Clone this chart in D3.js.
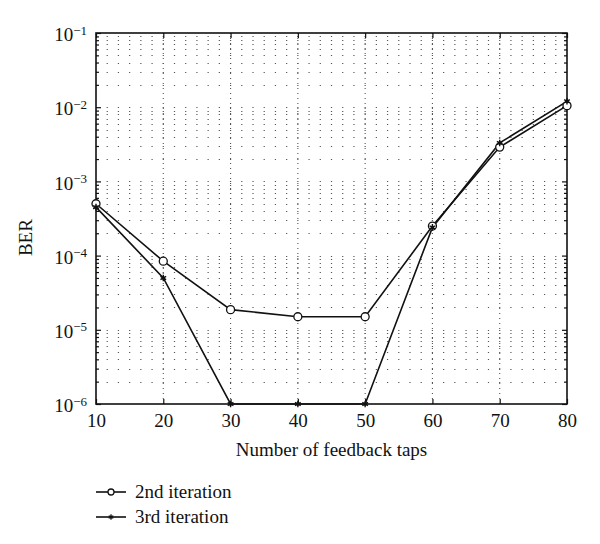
<!DOCTYPE html>
<html>
<head>
<meta charset="utf-8">
<script src="https://cdn.jsdelivr.net/npm/d3@7.9.0/dist/d3.min.js"></script>
<style>
  body { margin: 0; background: #fff; }
  text { font-family: "Liberation Serif", "DejaVu Serif", serif; fill: #111; }
</style>
</head>
<body>
<svg id="chart" width="600" height="544"></svg>
<script>
const taps = [10, 20, 30, 40, 50, 60, 70, 80];
const ber2nd = [5.0e-4, 8.4e-5, 1.87e-5, 1.5e-5, 1.5e-5, 2.5e-4, 2.9e-3, 1.05e-2];
const ber3rd = [4.5e-4, 5.0e-5, 1e-6, 1e-6, 1e-6, 2.4e-4, 3.3e-3, 1.2e-2];
const xTicks = [10, 20, 30, 40, 50, 60, 70, 80];
const yTicks = [1e-6, 1e-5, 1e-4, 1e-3, 1e-2, 1e-1];
const seriesNames = ["2nd iteration", "3rd iteration"];

const svg = d3.select("#chart");
const margin = { top: 33, right: 33, bottom: 140, left: 96 };
const width = 600 - margin.left - margin.right;
const height = 544 - margin.top - margin.bottom;
const g = svg.append("g").attr("transform", `translate(${margin.left},${margin.top})`);

const x = d3.scaleLinear().domain([10, 80]).range([0, width]);
const y = d3.scaleLog().domain([1e-6, 1e-1]).range([height, 0]);

// minor log positions (2..9 in every decade)
const yMinor = [];
for (let e = -6; e < -1; e++) {
  for (let m = 2; m <= 9; m++) yMinor.push(m * Math.pow(10, e));
}
const step = (x(20) - x(10)) / 6;

// ===== GRID =====
const grid = g.append("g").attr("stroke", "#555").attr("stroke-width", 1.1);
grid.selectAll(".hgrid")
  .data(yMinor.concat(yTicks.slice(1, -1)))
  .enter().append("line")
  .attr("x1", 0).attr("x2", width)
  .attr("y1", d => Math.round(y(d)) + 0.5).attr("y2", d => Math.round(y(d)) + 0.5)
  .attr("stroke-dasharray", `1.2 ${step - 1.2}`)
  .attr("stroke-dashoffset", -step + 0.6);

grid.selectAll(".vgrid")
  .data(xTicks.slice(1, -1))
  .enter().append("line")
  .attr("x1", d => x(d)).attr("x2", d => x(d))
  .attr("y1", 0).attr("y2", height)
  .attr("stroke-dasharray", "1 4");

// ===== AXES =====
const fontSize = "19px";
const xAxis = g.append("g").attr("transform", `translate(0,${height})`)
  .call(d3.axisBottom(x).tickValues(xTicks).tickSize(-5).tickPadding(10).tickFormat(d3.format("d")));
xAxis.selectAll("text").attr("font-size", fontSize);

g.append("g")
  .call(d3.axisTop(x).tickValues(xTicks).tickSize(-5).tickFormat(""));

const yAxis = g.append("g")
  .call(d3.axisLeft(y).tickValues(yTicks).tickSize(-5).tickPadding(9).tickFormat(""));
yAxis.selectAll(".tick text").each(function (d) {
  const t = d3.select(this);
  t.attr("font-size", fontSize).attr("dy", "0.4em");
  t.append("tspan").text("10");
  t.append("tspan").attr("dy", "-0.5em").attr("font-size", "13px").text("\u2212" + (-Math.round(Math.log10(d))));
});
g.append("g").call(d3.axisLeft(y).tickValues(yMinor).tickSize(-3).tickFormat(""));

g.append("g").attr("transform", `translate(${width},0)`)
  .call(d3.axisRight(y).tickValues(yTicks).tickSize(-5).tickFormat(""));
g.append("g").attr("transform", `translate(${width},0)`)
  .call(d3.axisRight(y).tickValues(yMinor).tickSize(-3).tickFormat(""));

g.selectAll(".domain").attr("stroke", "none");
g.selectAll(".tick line").attr("stroke", "#111").attr("stroke-width", 1.2);

g.append("rect")
  .attr("x", 0).attr("y", 0)
  .attr("width", width).attr("height", height)
  .attr("fill", "none").attr("stroke", "#111").attr("stroke-width", 1.6);

// ===== AXIS LABELS =====
g.append("text")
  .attr("x", width / 2)
  .attr("y", height + 52)
  .attr("text-anchor", "middle")
  .attr("font-size", fontSize)
  .text("Number of feedback taps");

g.append("text")
  .attr("transform", "rotate(-90)")
  .attr("x", -(y(1e-4) - 18))
  .attr("y", -64)
  .attr("text-anchor", "middle")
  .attr("font-size", fontSize)
  .text("BER");

// ===== SERIES =====
const line = d3.line()
  .x(d => x(d[0]))
  .y(d => y(d[1]));

const data2 = taps.map((t, i) => [t, ber2nd[i]]);
const data3 = taps.map((t, i) => [t, ber3rd[i]]);

g.append("path").datum(data2)
  .attr("fill", "none").attr("stroke", "#111").attr("stroke-width", 1.6)
  .attr("d", line);
g.append("path").datum(data3)
  .attr("fill", "none").attr("stroke", "#111").attr("stroke-width", 1.6)
  .attr("d", line);

g.selectAll(".m2").data(data2).enter().append("circle")
  .attr("cx", d => x(d[0])).attr("cy", d => y(d[1]))
  .attr("r", 4).attr("fill", "#fff").attr("stroke", "#111").attr("stroke-width", 1.3);

const star = d3.symbol().type(d3.symbolAsterisk).size(30);
g.selectAll(".m3").data(data3).enter().append("path")
  .attr("transform", d => `translate(${x(d[0])},${y(d[1])})`)
  .attr("d", star).attr("stroke", "#111").attr("stroke-width", 1.4);
g.selectAll(".m3c").data(data3).enter().append("circle")
  .attr("cx", d => x(d[0])).attr("cy", d => y(d[1]))
  .attr("r", 1.8).attr("fill", "#111");

// ===== LEGEND =====
const legend = svg.append("g").attr("transform", "translate(96, 492)");
seriesNames.forEach((name, i) => {
  const row = legend.append("g").attr("transform", `translate(0,${i * 25})`);
  row.append("line")
    .attr("x1", 0).attr("x2", 30).attr("y1", 0).attr("y2", 0)
    .attr("stroke", "#111").attr("stroke-width", 1.6);
  if (i === 0) {
    row.append("circle").attr("cx", 15).attr("cy", 0).attr("r", 3)
      .attr("fill", "#fff").attr("stroke", "#111").attr("stroke-width", 1.3);
  } else {
    row.append("path").attr("transform", "translate(15,0)")
      .attr("d", d3.symbol().type(d3.symbolAsterisk).size(20))
      .attr("stroke", "#111").attr("stroke-width", 1.2);
    row.append("circle").attr("cx", 15).attr("cy", 0).attr("r", 1.6).attr("fill", "#111");
  }
  row.append("text")
    .attr("x", 39).attr("y", 6)
    .attr("font-size", fontSize)
    .text(name);
});
</script>
</body>
</html>
